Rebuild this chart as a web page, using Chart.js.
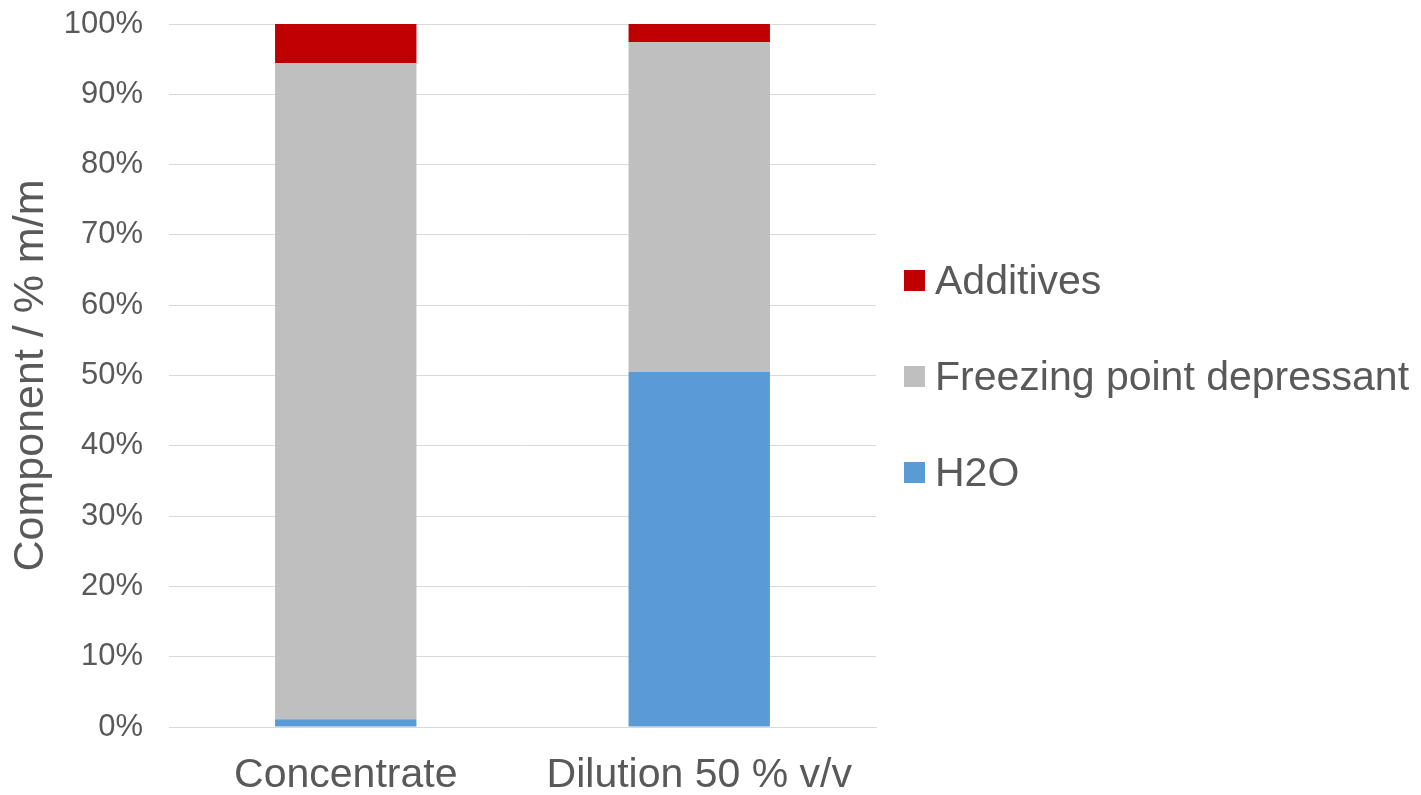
<!DOCTYPE html>
<html>
<head>
<meta charset="utf-8">
<script src="https://cdn.jsdelivr.net/npm/chart.js@4/dist/chart.umd.min.js"></script>
<style>
    body { margin: 0; background: #fff; }
    #wrap { position: relative; width: 1421px; height: 795px; }
    #legend { position: absolute; left: 904px; top: 232px; font-family: "Liberation Sans", Arial, sans-serif; font-size: 41px; color: #595959; }
    .item { display: flex; align-items: center; height: 96px; white-space: nowrap; }
    .box { width: 21px; height: 21px; margin-right: 10px; }
</style>
</head>
<body>
<div id="wrap">
    <canvas id="chart" width="1421" height="795"></canvas>
    <div id="legend"></div>
</div>
<script>
const categories = ["Concentrate", "Dilution 50 % v/v"];
const h2o = [1.1, 50.5];
const freezingPoint = [93.3, 46.9];
const additives = [5.6, 2.6];
const seriesNames = ["H2O", "Freezing point depressant", "Additives"];
const seriesColors = ["#5B9BD5", "#BFBFBF", "#C00000"];

const textColor = "#595959";
const fontFamily = "'Liberation Sans', Arial, sans-serif";

let chartData = {
    labels: categories,
    datasets: [h2o, freezingPoint, additives].map(function (values, index) {
        return {
            label: seriesNames[index],
            data: values,
            backgroundColor: seriesColors[index],
            categoryPercentage: 1,
            barPercentage: 0.4
        };
    })
};

let ctx = document.getElementById("chart").getContext("2d");
let chart = new Chart(ctx, {
    type: "bar",
    data: chartData,
    options: {
        responsive: false,
        animation: false,
        layout: { padding: { top: 24, right: 545, left: 0, bottom: 0 } },
        plugins: {
            legend: { display: false },
            tooltip: { enabled: false }
        },
        scales: {
            x: {
                stacked: true,
                grid: { display: false, drawTicks: false },
                border: { color: "#D9D9D9" },
                ticks: {
                    color: textColor,
                    padding: 28,
                    maxRotation: 0,
                    font: { family: fontFamily, size: 41, lineHeight: 1.0 }
                },
                afterFit: function (scale) { scale.height = 68; }
            },
            y: {
                stacked: true,
                min: 0,
                max: 100,
                grid: { color: "#D9D9D9", drawTicks: false },
                border: { display: false },
                ticks: {
                    stepSize: 10,
                    padding: 26,
                    color: textColor,
                    font: { family: fontFamily, size: 31 },
                    callback: function (value) { return value + "%"; }
                },
                title: {
                    display: true,
                    text: "Component / % m/m",
                    color: textColor,
                    padding: { top: 5, bottom: 0 },
                    font: { family: fontFamily, size: 43 }
                },
                afterFit: function (scale) {
                    scale.width = 169;
                    scale.paddingTop = 0;
                    scale.paddingBottom = 0;
                }
            }
        }
    }
});

// legend on the right, top item is the top of the stack
let htmlLegend = "";
for (let i = chartData.datasets.length - 1; i >= 0; i--) {
    let ds = chartData.datasets[i];
    htmlLegend += "<div class='item'><span class='box' style='background:" + ds.backgroundColor + "'></span>" + ds.label + "</div>";
}
document.getElementById("legend").innerHTML = htmlLegend;
</script>
</body>
</html>
